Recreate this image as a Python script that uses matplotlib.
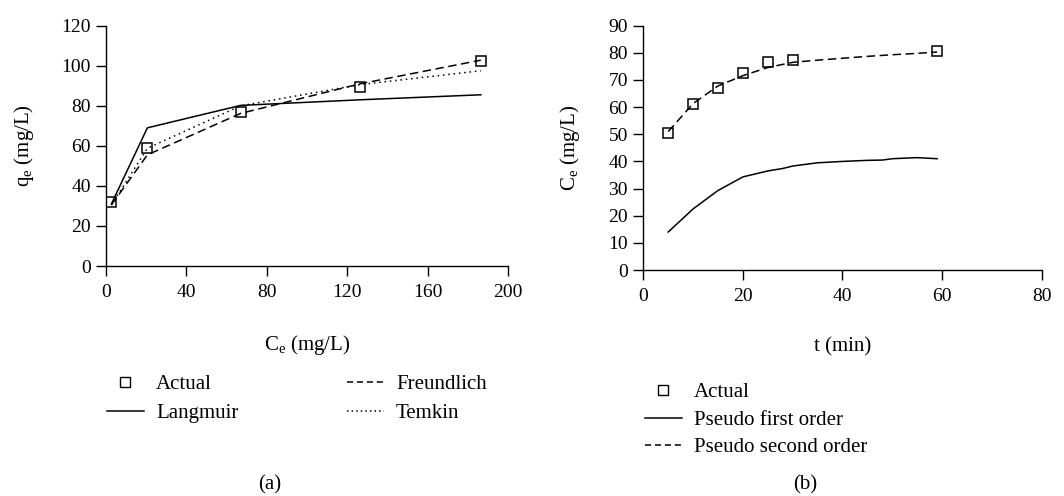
import matplotlib
matplotlib.use("Agg")
import matplotlib.pyplot as plt
from matplotlib.lines import Line2D

plt.rcParams['font.family'] = ['Liberation Serif', 'DejaVu Serif']
plt.rcParams['mathtext.fontset'] = 'custom'
plt.rcParams['mathtext.rm'] = 'Liberation Serif'
plt.rcParams['mathtext.it'] = 'Liberation Serif:italic'

# ---- Panel (a): isotherms ----
ce_actual = [2.7, 20.6, 67.0, 126.5, 186.5]
qe_actual = [32, 59, 76.8, 89.3, 102.3]
ce_model = [2.7, 20.6, 67.0, 126.5, 186.5]
qe_langmuir = [31, 69, 80.2, 83, 85.5]
qe_freundlich = [30.5, 55.5, 76.2, 91.0, 102.8]
qe_temkin = [30.5, 58.8, 80.0, 90.6, 97.5]

# ---- Panel (b): kinetics ----
t_actual = [5, 10, 15, 20, 25, 30, 59]
c_actual = [50.6, 61.2, 67.1, 72.4, 76.7, 77.3, 80.5]
t_first = [5, 10, 15, 20, 25, 28, 30, 35, 40, 45, 48, 50, 55, 59]
c_first = [14, 22.5, 29.3, 34.3, 36.5, 37.4, 38.3, 39.5, 40.0, 40.4, 40.5, 41.0, 41.4, 41.0]
t_second = [5, 10, 15, 20, 25, 30, 35, 40, 45, 50, 55, 59]
c_second = [51.0, 61.3, 67.8, 71.6, 74.6, 76.5, 77.3, 78.0, 78.7, 79.3, 79.8, 80.3]

fig = plt.figure(figsize=(10.64, 4.96), dpi=100)
ax1 = fig.add_axes([0.0996, 0.4637, 0.3778, 0.4845])
ax2 = fig.add_axes([0.6046, 0.4556, 0.3744, 0.4926])

FS = 14
LFS = 15
lw = 1.1
dash = (0, (5.5, 3))
dot = (0, (1, 2.5))
msz = 7.5

for ax in (ax1, ax2):
    for s in ('top', 'right'):
        ax.spines[s].set_visible(False)
    for s in ('left', 'bottom'):
        ax.spines[s].set_linewidth(1.0)
    ax.tick_params(direction='out', length=7, width=1.0, labelsize=FS)
    ax.tick_params(axis='x', pad=6)
    ax.tick_params(axis='y', pad=4)

# Panel a
ax1.plot(ce_model, qe_langmuir, color='black', lw=lw, ls='-')
ax1.plot(ce_model, qe_freundlich, color='black', lw=lw, ls=dash)
ax1.plot(ce_model, qe_temkin, color='black', lw=lw, ls=dot)
ax1.plot(ce_actual, qe_actual, ls='none', marker='s', mfc='none', mec='black',
         mew=1.1, ms=msz)
ax1.set_xlim(0, 200)
ax1.set_ylim(0, 120)
ax1.set_xticks([0, 40, 80, 120, 160, 200])
ax1.set_yticks([0, 20, 40, 60, 80, 100, 120])
ax1.set_xlabel('C$_\\mathrm{e}$ (mg/L)', fontsize=LFS, labelpad=23)
ax1.set_ylabel('q$_\\mathrm{e}$ (mg/L)', fontsize=LFS, labelpad=18)

# Panel b
ax2.plot(t_first, c_first, color='black', lw=lw, ls='-')
ax2.plot(t_second, c_second, color='black', lw=lw, ls=dash)
ax2.plot(t_actual, c_actual, ls='none', marker='s', mfc='none', mec='black',
         mew=1.1, ms=msz)
ax2.set_xlim(0, 80)
ax2.set_ylim(0, 90)
ax2.set_xticks([0, 20, 40, 60, 80])
ax2.set_yticks(list(range(0, 91, 10)))
ax2.set_xlabel('t (min)', fontsize=LFS, labelpad=23)
ax2.set_ylabel('C$_\\mathrm{e}$ (mg/L)', fontsize=LFS, labelpad=19)

# Legends
h_act = Line2D([], [], ls='none', marker='s', mfc='none', mec='black', mew=1.0, ms=7.5)
h_sol = Line2D([], [], color='black', lw=lw, ls='-')
h_dash = Line2D([], [], color='black', lw=lw, ls=(0, (4, 2.5)))
h_dot = Line2D([], [], color='black', lw=lw, ls=(0, (1, 2)))

fig.legend([h_act, h_sol, h_dash, h_dot],
           ['Actual', 'Langmuir', 'Freundlich', 'Temkin'],
           ncol=2, loc='center left', bbox_to_anchor=(0.1005, 1 - 399 / 496),
           frameon=False, fontsize=LFS, handlelength=1.78, handletextpad=0.58,
           columnspacing=5.2, labelspacing=0.45, borderaxespad=0, borderpad=0)

fig.legend([h_act, h_sol, h_dash],
           ['Actual', 'Pseudo first order', 'Pseudo second order'],
           ncol=1, loc='center left', bbox_to_anchor=(0.606, 1 - 420 / 496),
           frameon=False, fontsize=LFS, handlelength=1.78, handletextpad=0.58,
           labelspacing=0.39, borderaxespad=0, borderpad=0)

fig.text(0.2537, 1 - 485 / 496, '(a)', ha='center', va='center', fontsize=LFS)
fig.text(0.7566, 1 - 485 / 496, '(b)', ha='center', va='center', fontsize=LFS)

fig.savefig('out.png', dpi=100)
